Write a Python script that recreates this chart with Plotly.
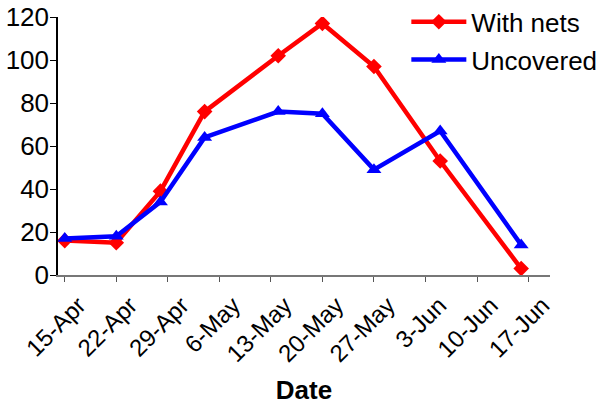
import plotly.graph_objects as go

# Data
dates_nets = ["2010-04-15", "2010-04-22", "2010-04-28", "2010-05-04", "2010-05-14",
              "2010-05-20", "2010-05-27", "2010-06-05", "2010-06-16"]
with_nets = [16, 15, 39, 76, 102, 117, 97, 53, 3]

dates_unc = ["2010-04-15", "2010-04-22", "2010-04-28", "2010-05-04", "2010-05-14",
             "2010-05-20", "2010-05-27", "2010-06-05", "2010-06-16"]
uncovered = [17, 18, 34, 64, 76, 75, 49, 67, 14]

tick_dates = ["2010-04-15", "2010-04-22", "2010-04-29", "2010-05-06", "2010-05-13",
              "2010-05-20", "2010-05-27", "2010-06-03", "2010-06-10", "2010-06-17"]
tick_labels = ["15-Apr", "22-Apr", "29-Apr", "6-May", "13-May",
               "20-May", "27-May", "3-Jun", "10-Jun", "17-Jun"]

y_ticks = [0, 20, 40, 60, 80, 100, 120]

FONT = "Liberation Sans, Arial, sans-serif"

fig = go.Figure()
fig.add_trace(go.Scatter(
    x=dates_nets, y=with_nets, name="With nets", mode="lines+markers",
    line=dict(color="#FF0000", width=4.5),
    marker=dict(symbol="diamond", size=12, color="#FF0000"),
    legendgroup="a",
))
fig.add_trace(go.Scatter(
    x=dates_unc, y=uncovered, name="Uncovered", mode="lines+markers",
    line=dict(color="#0000FF", width=4.5),
    marker=dict(symbol="triangle-up", size=13, color="#0000FF"),
    legendgroup="b",
))

fig.update_layout(
    width=604, height=405,
    margin=dict(l=58, r=54, t=17, b=130, autoexpand=False),
    paper_bgcolor="white", plot_bgcolor="white",
    font=dict(family=FONT, color="black", size=26),
    showlegend=True,
    legend=dict(
        x=0.708, y=1.072, xanchor="left", yanchor="top",
        bgcolor="rgba(0,0,0,0)", font=dict(size=26, family=FONT),
        itemwidth=55, tracegroupgap=1, traceorder="grouped",
    ),
    xaxis=dict(
        type="date", automargin=False,
        range=["2010-04-14 02:00", "2010-06-19 22:00"],
        tickvals=tick_dates, ticktext=tick_labels,
        tickangle=-45, tickfont=dict(size=24, family=FONT),
        ticks="outside", ticklen=5, tickcolor="#555555", tickwidth=1,
        showline=True, linecolor="#777777", linewidth=1.5,
        showgrid=False, zeroline=False,
        ticklabelshift=14,
        title=dict(text="<b>Date</b>", font=dict(size=26, family=FONT), standoff=16),
    ),
    yaxis=dict(
        range=[0, 120], tickvals=y_ticks, automargin=False,
        tickfont=dict(size=26, family=FONT),
        ticks="outside", ticklen=6, tickcolor="black", tickwidth=1,
        ticklabelstandoff=-4,
        showline=True, linecolor="black", linewidth=1.5,
        showgrid=False, zeroline=False,
    ),
)

fig.write_html("out.html", config={"displayModeBar": False},
               post_script="document.body.style.margin='0px';")
